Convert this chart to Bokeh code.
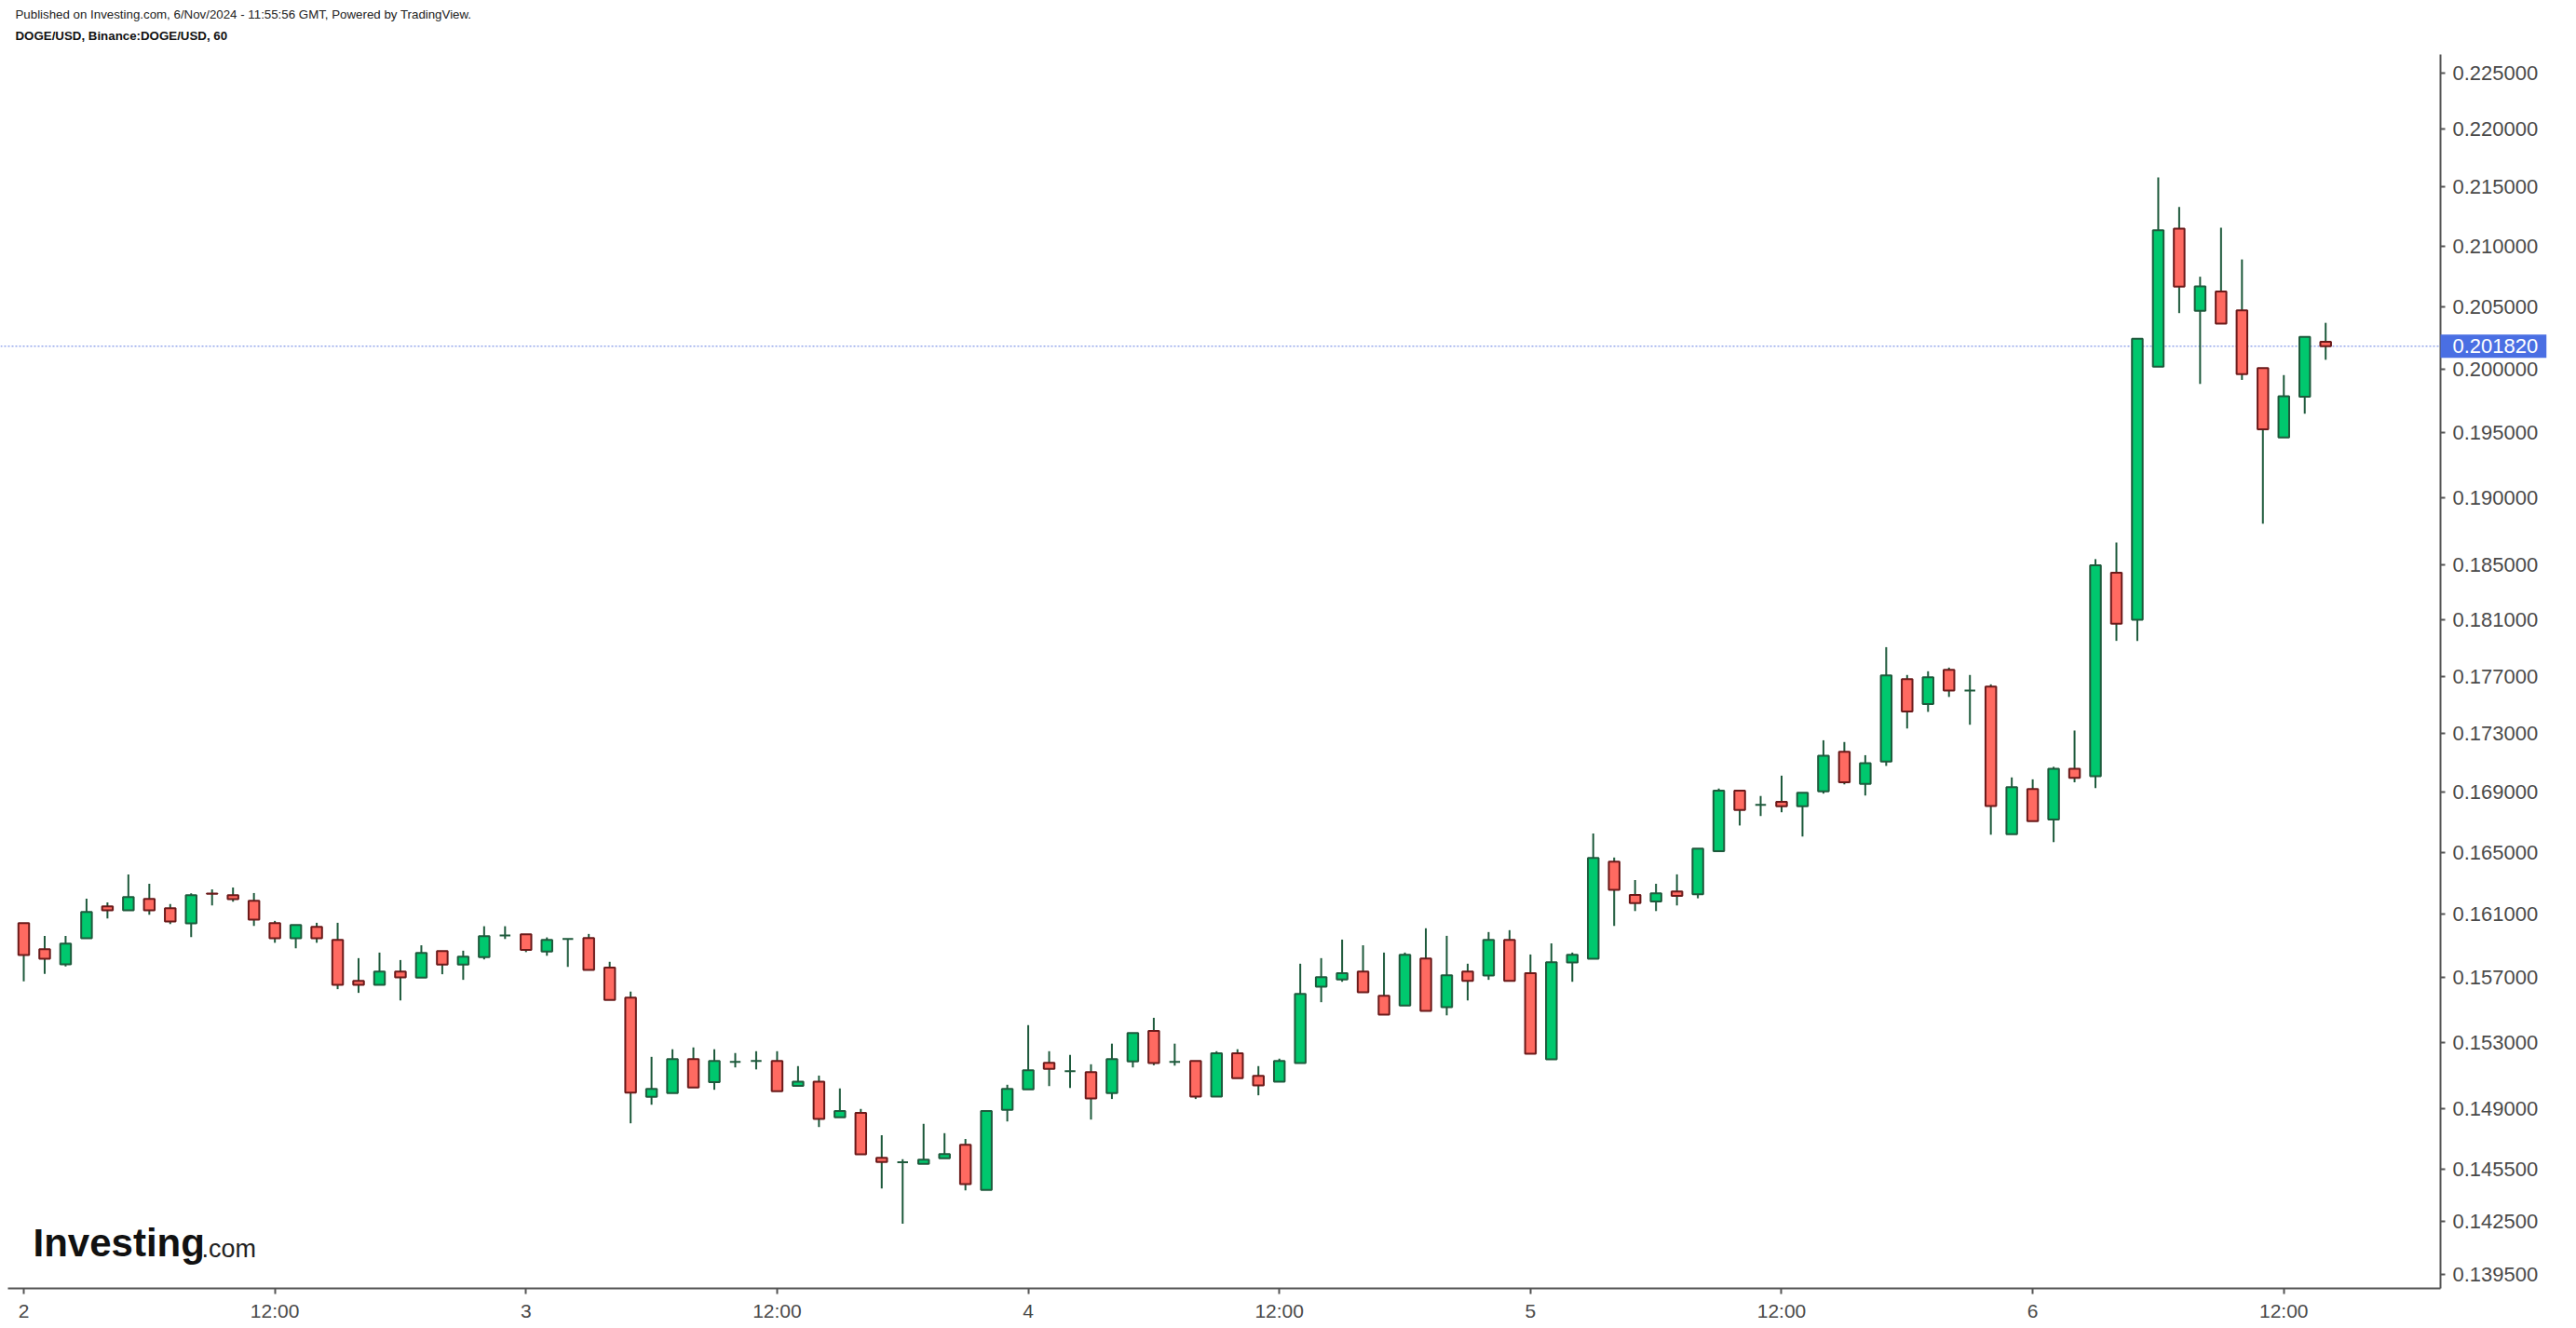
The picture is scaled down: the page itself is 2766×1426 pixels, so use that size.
import math
from bokeh.plotting import figure
from bokeh.models import ColumnDataSource, Range1d, FixedTicker, Label, CustomJSTickFormatter
from bokeh.embed import file_html
from bokeh.resources import INLINE

# ---- data (DOGE/USD, 1h candles, hour index from Nov 2 00:00) ----
hours = list(range(111))
opens = [0.16044, 0.15878, 0.15783, 0.15947, 0.16151, 0.16126, 0.16199, 0.16139, 0.16042, 0.16234,
         0.16223, 0.16187, 0.16044, 0.15947, 0.16020, 0.15937, 0.15680, 0.15655, 0.15738, 0.15700,
         0.15866, 0.15781, 0.15828, 0.15966, 0.15972, 0.15863, 0.15943, 0.15949, 0.15762, 0.15576,
         0.14973, 0.14995, 0.15200, 0.15061, 0.15183, 0.15188, 0.15188, 0.15039, 0.15064, 0.14851,
         0.14877, 0.14614, 0.14588, 0.14579, 0.14611, 0.14690, 0.14429, 0.14896, 0.15017, 0.15177,
         0.15126, 0.15120, 0.14995, 0.15185, 0.15370, 0.15183, 0.15188, 0.14975, 0.15234, 0.15098,
         0.15063, 0.15175, 0.15644, 0.15688, 0.15738, 0.15587, 0.15527, 0.15820, 0.15516, 0.15738,
         0.15713, 0.15937, 0.15727, 0.15198, 0.15795, 0.15818, 0.16441, 0.16224, 0.16183, 0.16247,
         0.16229, 0.16510, 0.16911, 0.16817, 0.16836, 0.16807, 0.16907, 0.17175, 0.16957, 0.17109,
         0.17679, 0.17505, 0.17745, 0.17598, 0.17627, 0.16622, 0.16923, 0.16719, 0.17060, 0.17009,
         0.18442, 0.18101, 0.20018, 0.21148, 0.20467, 0.20625, 0.20471, 0.20007, 0.19463, 0.19780,
         0.20217]
highs = [0.16044, 0.15963, 0.15963, 0.16201, 0.16177, 0.16358, 0.16297, 0.16166, 0.16235, 0.16261,
         0.16273, 0.16237, 0.16058, 0.16032, 0.16046, 0.16046, 0.15822, 0.15857, 0.15810, 0.15903,
         0.15866, 0.15869, 0.16024, 0.16024, 0.15972, 0.15953, 0.15943, 0.15975, 0.15799, 0.15613,
         0.15213, 0.15259, 0.15270, 0.15259, 0.15236, 0.15247, 0.15247, 0.15157, 0.15100, 0.15023,
         0.14901, 0.14746, 0.14606, 0.14813, 0.14758, 0.14724, 0.14888, 0.15045, 0.15406, 0.15247,
         0.15225, 0.15168, 0.15293, 0.15358, 0.15451, 0.15293, 0.15188, 0.15247, 0.15259, 0.15157,
         0.15202, 0.15787, 0.15822, 0.15939, 0.15903, 0.15857, 0.15857, 0.16011, 0.15963, 0.15787,
         0.15987, 0.15999, 0.15845, 0.15915, 0.15857, 0.16626, 0.16468, 0.16321, 0.16297, 0.16358,
         0.16526, 0.16926, 0.16911, 0.16876, 0.17013, 0.16898, 0.17254, 0.17242, 0.17152, 0.17905,
         0.17708, 0.17734, 0.17760, 0.17708, 0.17642, 0.17001, 0.16988, 0.17073, 0.17321, 0.18543,
         0.18666, 0.20242, 0.21582, 0.21330, 0.20747, 0.21155, 0.20890, 0.20007, 0.19951, 0.20256,
         0.20370]
lows = [0.15677, 0.15723, 0.15770, 0.15947, 0.16074, 0.16126, 0.16098, 0.16038, 0.15955, 0.16157,
        0.16181, 0.16026, 0.15919, 0.15884, 0.15919, 0.15628, 0.15605, 0.15655, 0.15558, 0.15700,
        0.15721, 0.15686, 0.15814, 0.15943, 0.15860, 0.15837, 0.15767, 0.15748, 0.15561, 0.14816,
        0.14926, 0.14995, 0.15028, 0.15015, 0.15149, 0.15137, 0.15006, 0.15039, 0.14794, 0.14851,
        0.14634, 0.14437, 0.14236, 0.14579, 0.14611, 0.14426, 0.14429, 0.14827, 0.15017, 0.15037,
        0.15026, 0.14838, 0.14960, 0.15149, 0.15162, 0.15160, 0.14960, 0.14975, 0.15085, 0.14982,
        0.15063, 0.15175, 0.15547, 0.15674, 0.15609, 0.15470, 0.15527, 0.15493, 0.15466, 0.15558,
        0.15686, 0.15679, 0.15232, 0.15198, 0.15674, 0.15818, 0.16026, 0.16121, 0.16121, 0.16157,
        0.16203, 0.16510, 0.16679, 0.16742, 0.16767, 0.16606, 0.16892, 0.16954, 0.16879, 0.17079,
        0.17335, 0.17450, 0.17554, 0.17361, 0.16618, 0.16622, 0.16708, 0.16569, 0.16968, 0.16929,
        0.17950, 0.17950, 0.20018, 0.20449, 0.19881, 0.20363, 0.19913, 0.18806, 0.19463, 0.19647,
        0.20073]
closes = [0.15841, 0.15818, 0.15913, 0.16115, 0.16126, 0.16211, 0.16126, 0.16054, 0.16223, 0.16232,
          0.16197, 0.16066, 0.15947, 0.16032, 0.15947, 0.15655, 0.15655, 0.15738, 0.15702, 0.15855,
          0.15781, 0.15831, 0.15961, 0.15966, 0.15874, 0.15937, 0.15943, 0.15748, 0.15561, 0.14998,
          0.15020, 0.15200, 0.15028, 0.15188, 0.15183, 0.15188, 0.15006, 0.15064, 0.14842, 0.14888,
          0.14634, 0.14590, 0.14588, 0.14604, 0.14636, 0.14462, 0.14888, 0.15020, 0.15132, 0.15140,
          0.15126, 0.14963, 0.15200, 0.15358, 0.15175, 0.15183, 0.14975, 0.15234, 0.15085, 0.15041,
          0.15188, 0.15599, 0.15703, 0.15727, 0.15609, 0.15470, 0.15843, 0.15493, 0.15715, 0.15679,
          0.15937, 0.15679, 0.15232, 0.15796, 0.15843, 0.16465, 0.16257, 0.16172, 0.16235, 0.16219,
          0.16526, 0.16911, 0.16782, 0.16817, 0.16807, 0.16898, 0.17149, 0.16969, 0.17098, 0.17705,
          0.17452, 0.17692, 0.17598, 0.17598, 0.16809, 0.16936, 0.16708, 0.17060, 0.16998, 0.18498,
          0.18073, 0.20242, 0.21133, 0.20665, 0.20668, 0.20363, 0.19958, 0.19525, 0.19784, 0.20256,
          0.20182]

x_tick_hours = [0, 12, 24, 36, 48, 60, 72, 84, 96, 108]
x_tick_labels = ["2", "12:00", "3", "12:00", "4", "12:00", "5", "12:00", "6", "12:00"]
y_ticks = [0.1395, 0.1425, 0.1455, 0.149, 0.153, 0.157, 0.161, 0.165, 0.169, 0.173, 0.177,
           0.181, 0.185, 0.19, 0.195, 0.2, 0.205, 0.21, 0.215, 0.22, 0.225]
last_price = closes[-1]

header_line1 = "Published on Investing.com, 6/Nov/2024 - 11:55:56 GMT, Powered by TradingView."
header_line2 = "DOGE/USD, Binance:DOGE/USD, 60"

# ---- geometry (canvas pixels) ----
W, H = 2766, 1426
PX_PER_HOUR = 22.47      # horizontal spacing of hourly candles
X_HOUR0 = 25.0           # canvas x of hour 0
LOG_PX = 2700.0          # canvas px per unit of ln(price)
REF_PRICE, REF_Y = 0.177, 725.5
AXIS_X_PX, AXIS_Y_PX = 2620.0, 1383.0   # right price axis / bottom time axis
AXIS_TOP_PX, AXIS_LEFT_PX = 58.0, 8.0


def hour_at(px):
    return (px - X_HOUR0) / PX_PER_HOUR


def price_at(py):
    return REF_PRICE * math.exp((REF_Y - py) / LOG_PX)


# ---- styling ----
UP_FILL, UP_LINE = "#00c86e", "#1e5a3c"
DN_FILL, DN_LINE = "#ff6a61", "#6b1a1a"
WICK = "#1e5a3c"
AXIS = "#555555"
FONT = "Liberation Sans"

up = [c >= o for o, c in zip(opens, closes)]
src = ColumnDataSource(dict(
    x=hours, o=opens, h=highs, l=lows, c=closes,
    top=[max(o, c) for o, c in zip(opens, closes)],
    bottom=[min(o, c) for o, c in zip(opens, closes)],
    fill=[UP_FILL if u else DN_FILL for u in up],
    line=[UP_LINE if u else DN_LINE for u in up],
))

x_range = Range1d(hour_at(0), hour_at(W))
y_range = Range1d(price_at(H), price_at(0))
axis_x = hour_at(AXIS_X_PX)
axis_y = price_at(AXIS_Y_PX)

p = figure(width=W, height=H, output_backend="svg", toolbar_location=None,
           x_range=x_range, y_range=y_range, y_axis_type="log", y_axis_location="right",
           min_border=0, min_border_left=0, min_border_right=0, min_border_top=0,
           min_border_bottom=0)
p.outline_line_color = None
p.background_fill_color = "white"
p.border_fill_color = "white"
p.xgrid.grid_line_color = None
p.ygrid.grid_line_color = None

xa = p.xaxis[0]
xa.ticker = FixedTicker(ticks=x_tick_hours)
xa.major_label_overrides = {h: t for h, t in zip(x_tick_hours, x_tick_labels)}
xa.fixed_location = axis_y
xa.bounds = (hour_at(AXIS_LEFT_PX), axis_x)
ya = p.yaxis[0]
ya.ticker = FixedTicker(ticks=y_ticks)
ya.formatter = CustomJSTickFormatter(code="return tick.toFixed(6);")
ya.fixed_location = axis_x
ya.bounds = (axis_y, price_at(AXIS_TOP_PX))
for ax in (xa, ya):
    ax.axis_line_color = AXIS
    ax.axis_line_width = 2
    ax.major_tick_line_color = AXIS
    ax.major_tick_line_width = 2
    ax.major_tick_in = 0
    ax.minor_tick_line_color = None
    ax.major_label_text_font = FONT
    ax.major_label_text_color = "#4a4a4a"
xa.major_tick_out = 6
xa.major_label_standoff = 6
xa.major_label_text_font_size = "21px"
ya.major_tick_out = 5
ya.major_label_standoff = 8
ya.major_label_text_font_size = "22px"

# current price line
p.segment(x0=[x_range.start], y0=[last_price], x1=[axis_x], y1=[last_price],
          line_color="#97a9ec", line_width=1.5, line_dash="2 2")

p.segment(x0="x", y0="l", x1="x", y1="h", line_color=WICK, line_width=2, source=src)
p.vbar(x="x", width=0.51, top="top", bottom="bottom", fill_color="fill",
       line_color="line", line_width=2, source=src)

p.add_layout(Label(x=axis_x, y=last_price, x_units="data", y_units="data",
                   text=f"{last_price:.6f}", text_font=FONT, text_font_size="22px",
                   text_color="white", text_baseline="middle", text_align="left",
                   background_fill_color="#4a6fe3",
                   padding=dict(left=13, right=9, top=5, bottom=5), level="overlay"))

# header texts and logo (screen units measured from the frame's bottom-left)
p.add_layout(Label(x=16, y=H - 15, x_units="screen", y_units="screen",
                   text=header_line1, text_font=FONT, text_font_size="13.3px",
                   text_color="#222222", text_baseline="middle"))
p.add_layout(Label(x=16, y=H - 38, x_units="screen", y_units="screen",
                   text=header_line2, text_font=FONT, text_font_size="13.3px",
                   text_font_style="bold", text_color="#111111", text_baseline="middle"))
p.add_layout(Label(x=35, y=H - 1334, x_units="screen", y_units="screen",
                   text="Investing", text_font=FONT, text_font_size="42px",
                   text_font_style="bold", text_color="#111111", text_baseline="middle"))
p.add_layout(Label(x=216, y=H - 1340, x_units="screen", y_units="screen",
                   text=".com", text_font=FONT, text_font_size="27px",
                   text_color="#222222", text_baseline="middle"))

open("out.html", "w").write(file_html(p, INLINE))
